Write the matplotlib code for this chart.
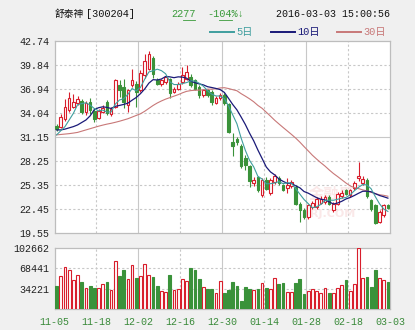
import matplotlib.pyplot as plt
from matplotlib.lines import Line2D

plt.rcParams['font.family'] = ['Liberation Mono', 'Noto Sans CJK SC']

# 舒泰神 日K线 (2015-11-05 ~ 2016-03-03)
opens = [32.45, 32.30, 33.30, 34.40, 34.80, 35.30, 35.50, 34.20, 35.40, 34.30,
         33.50, 34.20, 35.40, 33.90, 34.80, 37.40, 37.20, 35.00, 37.40, 37.60,
         36.80, 38.60, 39.40, 40.70, 38.00, 37.50, 37.80, 38.10, 36.60, 37.00,
         37.80, 38.20, 38.40, 38.00, 37.20, 36.20, 36.80, 36.60, 35.30, 35.80,
         36.20, 35.10, 30.60, 30.90, 30.10, 28.60, 27.60, 25.55, 26.30, 24.10,
         26.00, 24.40, 25.70, 26.20, 25.35, 25.00, 25.20, 25.10, 23.10, 22.30,
         21.50, 22.70, 22.70, 23.20, 23.30, 23.90, 22.30, 23.10, 24.00, 24.70,
         24.10, 24.95, 26.20, 25.60, 26.00, 23.50, 22.90, 20.90, 21.70, 22.90]
highs = [32.70, 33.90, 35.70, 36.60, 36.30, 36.10, 35.75, 35.50, 35.90, 34.60,
         34.50, 35.00, 35.60, 34.80, 38.20, 38.00, 38.20, 37.00, 39.40, 37.90,
         39.20, 41.20, 41.50, 40.90, 38.30, 38.20, 38.60, 38.30, 37.20, 37.80,
         39.60, 39.80, 38.70, 38.20, 37.40, 37.00, 37.00, 36.80, 36.10, 36.40,
         36.40, 35.30, 31.60, 31.10, 30.30, 29.00, 27.80, 26.30, 26.40, 26.20,
         26.30, 26.20, 26.70, 26.40, 25.50, 26.20, 26.00, 25.30, 23.30, 22.60,
         23.10, 23.40, 23.90, 24.00, 24.20, 24.10, 23.30, 24.50, 24.80, 24.90,
         24.90, 25.80, 28.10, 26.40, 26.20, 23.70, 23.10, 22.30, 23.10, 23.10]
lows = [31.90, 32.20, 33.10, 34.20, 34.60, 35.00, 33.90, 33.80, 33.90, 33.00,
        33.30, 34.00, 33.80, 33.70, 34.60, 36.00, 34.60, 34.20, 37.20, 34.80,
        36.60, 38.30, 39.20, 38.30, 37.40, 37.30, 37.60, 35.80, 36.40, 36.80,
        37.60, 38.00, 37.20, 36.80, 35.80, 36.00, 36.00, 35.00, 35.10, 35.60,
        35.00, 31.60, 28.80, 30.20, 27.40, 27.20, 25.10, 25.20, 24.50, 23.90,
        24.70, 24.20, 25.50, 25.40, 24.60, 24.40, 25.00, 22.90, 20.90, 21.20,
        21.30, 22.50, 22.50, 23.00, 23.10, 22.90, 22.10, 22.90, 23.80, 24.10,
        23.90, 24.80, 25.80, 25.40, 23.80, 22.20, 20.60, 20.70, 21.50, 22.40]
closes = [32.15, 33.55, 34.80, 35.80, 35.40, 35.70, 34.20, 35.30, 34.40, 33.30,
          34.30, 34.70, 34.10, 34.50, 38.00, 36.80, 35.40, 36.80, 38.00, 36.60,
          38.90, 40.30, 41.20, 38.70, 37.60, 38.00, 38.40, 36.40, 37.00, 37.60,
          38.60, 39.00, 37.40, 37.00, 36.20, 36.80, 36.20, 35.40, 35.90, 36.20,
          35.20, 31.80, 30.00, 30.50, 27.60, 27.80, 25.80, 26.00, 24.75, 26.00,
          24.90, 25.90, 26.40, 25.60, 24.75, 25.40, 25.70, 23.10, 22.30, 21.50,
          22.90, 23.20, 23.70, 23.70, 23.90, 23.10, 23.10, 24.30, 24.40, 24.30,
          24.70, 25.55, 26.40, 26.10, 24.00, 22.40, 20.80, 22.10, 22.90, 22.60]
volumes = [38900, 55800, 70500, 66000, 49100, 57500, 44600, 35000, 38900, 35000,
           35000, 42300, 44600, 32100, 81200, 54700, 64900, 50200, 74400, 52500,
           55800, 76100, 57500, 53600, 38900, 31000, 28800, 57500, 32100, 33800,
           50200, 47400, 68200, 66000, 50800, 36700, 33800, 33800, 26500, 46800,
           27100, 32100, 45700, 38900, 13500, 37200, 33800, 32100, 33800, 43400,
           36100, 33300, 51900, 42900, 44000, 28200, 28200, 43400, 50200, 25400,
           29900, 33300, 30500, 27100, 36100, 27100, 27100, 36100, 40600, 49100,
           31000, 42300, 102662, 51900, 54100, 37200, 66000, 51900, 49100, 45700]

# 均线
ma5 = [31.40, 31.90, 32.40, 33.20, 34.00, 35.05, 35.18, 35.28, 35.00, 34.58,
       34.30, 34.40, 34.16, 34.18, 35.12, 35.62, 35.76, 36.30, 37.00, 36.72,
       37.14, 38.12, 39.00, 39.14, 39.34, 39.16, 38.78, 37.82, 37.48, 37.48,
       37.60, 37.72, 37.92, 37.92, 37.64, 37.28, 36.72, 36.32, 36.10, 36.10,
       35.78, 34.90, 33.82, 32.74, 31.02, 29.54, 28.34, 27.54, 26.39, 26.07,
       25.49, 25.51, 25.59, 25.76, 25.51, 25.61, 25.57, 24.91, 24.25, 23.60,
       23.10, 22.60, 22.72, 23.00, 23.48, 23.52, 23.50, 23.62, 23.76, 23.84,
       24.16, 24.65, 25.07, 25.41, 25.35, 24.89, 23.94, 23.08, 22.44, 22.16]
ma10 = [32.00, 32.00, 32.10, 32.25, 32.40, 32.60, 32.90, 33.20, 33.70, 34.46,
        34.68, 34.79, 34.72, 34.59, 34.85, 34.96, 35.08, 35.23, 35.59, 35.92,
        36.38, 36.94, 37.65, 38.07, 38.03, 38.15, 38.45, 38.41, 38.31, 38.41,
        38.38, 38.25, 37.87, 37.70, 37.56, 37.44, 37.22, 37.12, 37.01, 36.87,
        36.53, 35.81, 35.07, 34.42, 33.56, 32.66, 31.62, 30.68, 29.57, 28.55,
        27.52, 26.93, 26.57, 26.08, 25.79, 25.55, 25.54, 25.25, 25.01, 24.56,
        24.36, 24.09, 23.82, 23.63, 23.54, 23.31, 23.05, 23.17, 23.38, 23.66,
        23.84, 24.08, 24.35, 24.59, 24.60, 24.53, 24.30, 24.08, 23.93, 23.76]
ma30 = [31.40, 31.45, 31.50, 31.55, 31.62, 31.70, 31.85, 32.00, 32.15, 32.30,
        32.45, 32.58, 32.70, 32.80, 32.92, 33.05, 33.20, 33.35, 33.55, 33.75,
        33.95, 34.25, 34.60, 34.95, 35.25, 35.50, 35.72, 35.90, 36.08, 36.26,
        36.48, 36.66, 36.75, 36.79, 36.81, 36.85, 36.92, 36.92, 36.97, 37.07,
        37.10, 37.00, 36.86, 36.73, 36.38, 36.08, 35.76, 35.40, 34.96, 34.61,
        34.14, 33.66, 33.17, 32.73, 32.30, 31.88, 31.46, 31.02, 30.53, 29.99,
        29.47, 28.94, 28.48, 28.04, 27.63, 27.17, 26.74, 26.37, 25.98, 25.59,
        25.24, 25.03, 24.91, 24.76, 24.64, 24.46, 24.30, 24.17, 24.10, 23.99]

date_labels = ['11-05', '11-18', '12-02', '12-16', '12-30',
               '01-14', '01-28', '02-18', '03-03']
price_ticks = [19.55, 22.45, 25.35, 28.25, 31.15, 34.04, 36.94, 39.84, 42.74]
vol_ticks = [34221, 68441, 102662]

RED = '#d81e2c'
GREEN = '#3a923a'
C_MA5 = '#3f9e9e'
C_MA10 = '#1a1a78'
C_MA30 = '#c87878'
GRID = '#c8c8c8'
W, H = 415, 330

def fx(px):
    return px / W

def fy(py):
    return 1 - py / H

fig = plt.figure(figsize=(4.15, 3.30), dpi=100, facecolor='#f0f0f0')
ax = fig.add_axes([fx(54.5), fy(233), fx(390) - fx(54.5), fy(41) - fy(233)])
axv = fig.add_axes([fx(54.5), fy(309), fx(390) - fx(54.5), fy(248) - fy(309)])

n = len(closes)
xs = list(range(n))
up = [c >= o for o, c in zip(opens, closes)]
colors = [RED if u else GREEN for u in up]
faces = ['white' if u else GREEN for u in up]

# 网格: 月份分隔与中线用实线
bounds = [9.5, 19.5, 29.5, 39.5, 49.5, 59.5, 69.5]
for k, b in enumerate(bounds):
    ls = '-' if k % 2 == 1 else (0, (2, 2))
    ax.axvline(b, color=GRID, lw=0.8, ls=ls, zorder=0)
    axv.axvline(b, color=GRID, lw=0.8, ls=ls, zorder=0)
for t in price_ticks[1:-1]:
    ls = '-' if t == 31.15 else (0, (2, 2))
    ax.axhline(t, color=GRID, lw=0.8, ls=ls, zorder=0)
for t in vol_ticks[:-1]:
    axv.axhline(t, color=GRID, lw=0.8, ls=(0, (2, 2)), zorder=0)

# 水印
ax.text(65.5, 24.3, '金融界', color='#fae8e8', fontsize=11, fontweight='bold',
        ha='center', va='center', zorder=0.5, family='Noto Sans CJK SC')
ax.text(65.5, 21.8, 'JRJ.COM', color='#fae8e8', fontsize=8, fontweight='bold',
        ha='center', va='center', zorder=0.5, family='DejaVu Sans')

# K线
ax.vlines(xs, lows, highs, colors=colors, lw=0.8, zorder=2)
bottoms = [min(o, c) for o, c in zip(opens, closes)]
heights = [max(abs(c - o), 0.03) for o, c in zip(opens, closes)]
ax.bar(xs, heights, bottom=bottoms, width=0.62, color=faces,
       edgecolor=colors, linewidth=0.8, zorder=3)

ax.plot(xs, ma30, color=C_MA30, lw=0.8, zorder=4)
ax.plot(xs, ma10, color=C_MA10, lw=0.9, zorder=4)
ax.plot(xs, ma5, color=C_MA5, lw=0.8, zorder=4)

ax.set_xlim(-0.5, n - 0.5)
ax.set_ylim(price_ticks[0], price_ticks[-1])
ax.set_yticks(price_ticks)
ax.set_yticklabels([f'{t:.2f}' for t in price_ticks])
ax.set_xticks([])

# 成交量
axv.bar(xs, volumes, width=0.66, color=faces, edgecolor=colors,
        linewidth=0.8, zorder=3)
axv.set_xlim(-0.5, n - 0.5)
axv.set_ylim(0, vol_ticks[-1])
axv.set_yticks(vol_ticks)
axv.set_yticklabels([str(v) for v in vol_ticks])
axv.set_xticks([-0.5] + bounds + [n - 0.5])
axv.set_xticklabels(date_labels)

for a in (ax, axv):
    a.set_facecolor('white')
    for s in a.spines.values():
        s.set_color('#bdbdbd')
        s.set_linewidth(0.9)
    a.tick_params(axis='y', length=0, pad=4, labelsize=7.2, labelcolor='#222222')
axv.tick_params(axis='x', length=0, pad=6, labelsize=7.2, labelcolor='#3a8a3a')

# 标题行
fig.text(fx(55), fy(14), '舒泰神', fontsize=7.0, va='center', ha='left',
         family='Noto Sans CJK SC', color='#111111')
fig.text(fx(86), fy(14), '[300204]', fontsize=7.4, va='center', ha='left',
         color='#111111')
fig.text(fx(171), fy(14), '2277', fontsize=7.4, va='center', ha='left',
         color='#3a9a3a')
fig.add_artist(Line2D([fx(183), fx(195)], [fy(19.5), fy(19.5)],
                      color='#3a9a3a', lw=0.6))
fig.text(fx(207), fy(14), '-104%↓', fontsize=7.4, va='center', ha='left',
         color='#3a9a3a', family=['Liberation Mono', 'DejaVu Sans'])
fig.add_artist(Line2D([fx(219), fx(232)], [fy(19.5), fy(19.5)],
                      color='#3a9a3a', lw=0.6))
fig.text(fx(276), fy(14), '2016-03-03 15:00:56', fontsize=7.2, va='center',
         ha='left', color='#111111')

# 均线图例
legend_items = [('5日', C_MA5, 210), ('10日', C_MA10, 271), ('30日', C_MA30, 337)]
for label, col, x0 in legend_items:
    fig.add_artist(Line2D([fx(x0), fx(x0 + 24)], [fy(32), fy(32)], color=col, lw=1.4))
    fig.text(fx(x0 + 26), fy(32), label, fontsize=7.4, va='center', ha='left',
             color=col)

fig.savefig('out.png', dpi=100, facecolor=fig.get_facecolor())
